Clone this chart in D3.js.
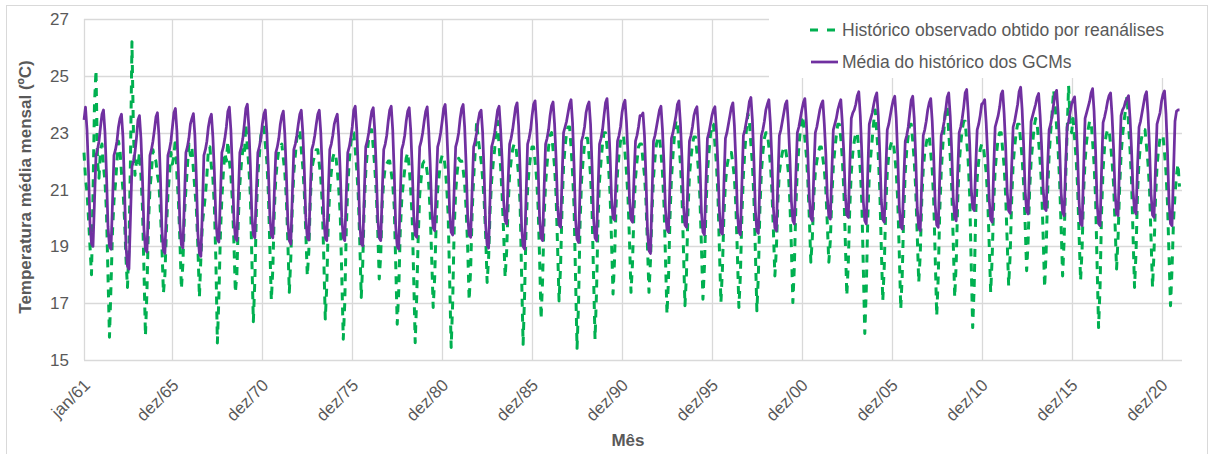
<!DOCTYPE html>
<html>
<head>
<meta charset="utf-8">
<script src="https://cdn.jsdelivr.net/npm/d3@7"></script>
<style>
  body { margin: 0; background: #fff; }
  text { font-family: "Liberation Sans", Arial, sans-serif; fill: #595959; }
</style>
</head>
<body>
<svg id="chart" width="1214" height="454"></svg>
<script>
// categorias (meses) e rótulos
var meses = ["jan","fev","mar","abr","mai","jun","jul","ago","set","out","nov","dez"];
var anos = d3.range(1961, 2022);
var rotulosX = ["jan/61","dez/65","dez/70","dez/75","dez/80","dez/85","dez/90","dez/95","dez/00","dez/05","dez/10","dez/15","dez/20"];
var ticksY = [15, 17, 19, 21, 23, 25, 27];

// Média do histórico dos GCMs, uma linha por ano (jan..dez)
var gcm = [
[23.45,23.9,23.1,21.65,19.8,19.1,19.0,20.6,22.2,22.4,22.7,23.2],
[23.65,23.8,23.0,21.55,19.7,19.0,18.9,20.5,22.2,22.4,22.7,23.2],
[23.5,23.65,22.85,21.1,19.0,18.3,18.2,20.0,21.8,22.0,22.3,22.8],
[23.45,23.6,22.8,21.4,19.6,18.9,18.8,20.4,22.2,22.4,22.7,23.1],
[23.55,23.7,22.9,21.4,19.55,18.85,18.75,20.4,22.2,22.4,22.7,23.2],
[23.7,23.85,23.05,21.6,19.75,19.05,18.95,20.6,22.3,22.5,22.8,23.3],
[23.5,23.67,22.9,21.35,19.45,18.75,18.65,20.3,22.2,22.4,22.7,23.2],
[23.5,23.65,22.85,21.6,19.95,19.25,19.15,20.7,22.3,22.5,22.8,23.2],
[23.75,23.9,23.1,21.75,20.0,19.3,19.2,20.8,22.3,22.5,22.8,23.3],
[23.85,24.0,23.2,21.85,20.1,19.4,19.3,20.9,22.3,22.5,22.8,23.3],
[23.65,23.8,23.0,21.75,20.1,19.4,19.3,20.9,22.3,22.5,22.8,23.3],
[23.6,23.76,22.95,21.6,19.9,19.2,19.08,20.8,22.4,22.6,22.9,23.3],
[23.65,23.79,23.0,21.7,20.0,19.3,19.22,20.9,22.4,22.6,22.9,23.3],
[23.65,23.79,23.0,21.7,20.0,19.3,19.2,20.9,22.4,22.6,22.9,23.3],
[23.5,23.65,22.85,21.6,20.0,19.3,19.2,20.8,22.3,22.5,22.8,23.2],
[23.8,23.93,23.1,21.7,19.8,19.1,19.02,20.8,22.5,22.7,23.0,23.4],
[23.75,23.88,23.1,21.75,20.0,19.3,19.2,20.9,22.4,22.6,22.9,23.4],
[23.8,23.93,23.1,21.6,19.7,19.0,18.9,20.7,22.4,22.6,22.9,23.4],
[23.75,23.88,23.1,21.8,20.1,19.4,19.32,21.0,22.5,22.7,23.0,23.4],
[23.75,23.91,23.1,21.9,20.35,19.65,19.55,21.1,22.5,22.7,23.0,23.4],
[23.85,23.99,23.2,21.9,20.2,19.5,19.4,21.0,22.5,22.7,23.0,23.5],
[23.85,23.99,23.2,21.85,20.1,19.4,19.32,21.0,22.5,22.7,23.0,23.4],
[23.7,23.79,23.0,21.55,19.75,19.05,18.94,20.8,22.5,22.7,23.0,23.4],
[23.8,23.93,23.1,22.05,20.6,19.9,19.79,21.3,22.6,22.8,23.1,23.5],
[23.9,24.05,23.25,21.7,19.7,19.0,18.9,20.8,22.6,22.8,23.1,23.6],
[24.0,24.12,23.3,21.85,20.0,19.3,19.2,21.0,22.6,22.8,23.1,23.6],
[23.95,24.08,23.3,22.1,20.45,19.75,19.67,21.4,23.0,23.2,23.4,23.7],
[24.0,24.16,23.35,21.85,19.95,19.25,19.14,21.0,22.7,22.9,23.2,23.7],
[23.95,24.08,23.3,21.85,20.0,19.3,19.2,21.0,22.6,22.8,23.1,23.6],
[24.05,24.2,23.4,22.25,20.7,20.0,19.93,21.4,22.7,22.9,23.2,23.7],
[24.0,24.14,23.35,22.2,20.65,19.95,19.85,21.4,22.7,22.9,23.2,23.6],
[23.6,23.69,22.9,21.4,19.55,18.85,18.75,20.7,22.7,22.9,23.2,23.5],
[23.8,23.93,23.1,21.9,20.3,19.6,19.5,21.2,22.8,23.0,23.3,23.6],
[24.0,24.12,23.3,22.1,20.45,19.75,19.67,21.3,22.7,22.9,23.2,23.6],
[23.8,23.91,23.1,21.85,20.2,19.5,19.41,21.2,22.8,23.0,23.3,23.6],
[23.8,23.91,23.1,21.85,20.25,19.5,19.43,21.2,22.8,23.0,23.3,23.6],
[23.9,24.05,23.25,21.95,20.2,19.5,19.41,21.2,22.9,23.1,23.4,23.7],
[24.1,24.24,23.45,22.05,20.25,19.55,19.46,21.3,22.9,23.1,23.4,23.8],
[24.0,24.16,23.35,22.05,20.35,19.65,19.55,21.3,22.9,23.1,23.4,23.7],
[24.0,24.12,23.3,22.15,20.6,19.9,19.79,21.5,23.0,23.2,23.5,23.8],
[24.05,24.2,23.4,22.25,20.7,20.0,19.9,21.6,23.0,23.2,23.5,23.8],
[24.0,24.12,23.3,22.25,20.75,20.05,19.96,21.6,23.1,23.3,23.5,23.8],
[24.0,24.16,23.35,22.3,20.8,20.1,20.02,21.8,23.5,23.7,23.8,24.0],
[24.3,24.44,23.6,22.3,20.6,19.9,19.79,21.6,23.3,23.5,23.7,24.0],
[24.25,24.4,23.6,22.3,20.65,19.95,19.85,21.6,23.1,23.3,23.6,23.9],
[24.15,24.28,23.5,22.15,20.4,19.7,19.61,21.3,22.7,22.9,23.2,23.7],
[24.15,24.28,23.5,22.1,20.35,19.65,19.55,21.3,22.9,23.1,23.4,23.8],
[24.05,24.2,23.4,22.15,20.45,19.75,19.67,21.4,22.9,23.1,23.4,23.8],
[24.25,24.4,23.6,22.35,20.7,20.0,19.9,21.6,23.0,23.2,23.5,23.9],
[24.4,24.52,23.7,22.6,21.05,20.35,20.26,21.8,23.1,23.3,23.6,24.0],
[24.05,24.16,23.35,22.2,20.65,19.95,19.85,21.7,23.2,23.4,23.6,23.9],
[24.35,24.47,23.65,22.5,20.95,20.25,20.16,21.8,23.2,23.4,23.7,24.0],
[24.45,24.6,23.8,22.55,20.95,20.25,20.14,21.9,23.4,23.6,23.8,24.0],
[24.25,24.38,23.6,22.5,21.05,20.35,20.26,21.8,23.1,23.3,23.6,24.0],
[24.35,24.49,23.7,22.5,20.9,20.2,20.08,21.8,23.2,23.4,23.7,24.0],
[24.15,24.26,23.45,22.2,20.55,19.8,19.73,21.7,23.5,23.7,23.9,24.1],
[24.4,24.55,23.75,22.35,20.55,19.8,19.73,21.7,23.35,23.55,23.8,24.1],
[24.3,24.4,23.6,22.45,20.9,20.15,20.08,21.9,23.6,23.8,23.9,24.1],
[24.2,24.3,23.5,22.4,20.95,20.25,20.14,21.8,23.2,23.4,23.7,24.0],
[24.3,24.44,23.65,22.45,20.85,20.1,20.02,21.8,23.3,23.5,23.7,24.1],
[24.35,24.47,23.65,22.3,20.55,19.8,19.73,21.6,23.4,23.75,23.8,23.8]
];

// Histórico observado obtido por reanálises, uma linha por ano (jan..dez)
var observado = [
[22.3,21.4,20.9,20.0,19.0,18.0,20.8,24.0,25.2,22.0,21.4,22.4],
[22.6,21.8,21.3,20.2,18.0,15.8,17.6,19.5,20.6,21.2,22.0,22.7],
[22.4,21.6,21.0,20.0,18.6,17.55,19.0,22.0,26.2,23.0,21.5,22.0],
[21.8,22.3,21.5,20.4,18.2,15.85,17.4,19.8,21.0,21.6,22.4,22.1],
[22.0,21.5,21.2,20.2,19.0,17.35,18.0,19.6,20.8,21.5,22.3,21.9],
[22.2,22.8,21.5,20.6,19.2,17.5,18.4,20.1,21.0,21.8,22.6,22.2],
[22.5,21.7,21.0,20.3,19.0,17.2,18.6,19.8,20.3,20.8,21.5,22.4],
[22.5,21.8,21.4,20.4,18.5,15.6,17.2,19.4,20.7,21.6,22.3,22.0],
[22.7,22.0,21.5,20.6,19.2,17.37,18.0,20.0,21.2,21.9,22.4,22.2],
[23.3,22.5,21.8,20.8,18.6,16.35,17.8,20.2,21.5,22.2,22.9,23.1],
[23.2,22.6,22.0,20.9,19.0,17.1,18.2,20.3,21.4,22.0,22.4,22.5],
[22.6,22.1,21.6,20.7,19.2,17.38,18.6,20.4,21.6,22.2,22.8,23.0],
[23.1,22.4,21.8,20.9,19.5,17.96,18.8,20.6,21.7,22.0,22.2,22.4],
[22.4,21.9,21.4,20.5,18.6,16.44,17.6,19.8,21.0,21.6,22.1,22.3],
[22.2,21.7,21.0,20.1,18.0,15.73,17.0,19.6,21.1,22.0,22.6,23.0],
[23.0,22.4,21.7,20.8,19.2,17.2,18.4,20.4,21.6,22.3,22.8,23.1],
[23.1,22.5,21.8,20.9,19.6,17.85,18.7,20.5,21.3,21.8,21.9,22.0],
[22.0,21.6,21.2,20.4,18.4,16.26,17.4,19.5,20.6,21.2,21.7,22.1],
[22.3,21.8,21.0,20.0,17.9,15.61,17.2,19.3,20.8,21.4,21.9,22.0],
[22.0,21.6,21.2,20.2,18.6,16.85,17.9,19.8,21.0,21.5,22.0,22.2],
[22.2,21.8,21.1,20.1,17.8,15.44,17.0,19.6,20.9,21.6,22.1,22.0],
[22.0,21.7,21.2,20.3,19.0,17.1,18.2,20.2,21.4,22.3,23.4,22.8],
[22.4,22.0,21.4,20.6,19.4,17.73,18.6,20.3,21.3,21.9,22.4,23.2],
[23.4,22.5,21.8,20.8,19.5,17.9,18.8,20.4,21.5,22.0,22.4,22.6],
[22.6,22.1,21.5,20.5,18.0,15.55,17.3,19.7,21.0,21.7,22.2,22.5],
[22.5,22.0,21.4,20.4,18.6,16.44,17.8,20.0,21.2,21.9,22.5,22.9],
[23.0,22.4,21.8,20.8,19.0,17.08,18.3,20.4,21.8,22.5,23.0,23.2],
[23.2,22.5,21.6,20.4,17.9,15.41,17.0,19.8,21.3,22.0,22.6,22.8],
[22.8,22.2,21.5,20.3,18.0,15.73,17.4,19.9,21.3,22.0,22.6,23.0],
[23.0,22.5,21.8,20.9,19.2,17.32,18.5,20.4,21.6,22.2,22.7,22.9],
[22.9,22.3,21.6,20.7,19.2,17.38,18.4,20.3,21.4,22.0,22.5,22.6],
[22.6,22.0,21.5,20.6,19.0,17.38,18.5,20.2,21.4,22.1,22.6,22.85],
[22.85,22.3,21.6,20.5,18.6,16.61,17.8,20.0,21.4,22.2,22.9,23.4],
[23.44,22.6,21.9,20.8,18.9,16.91,18.0,20.2,21.5,22.1,22.6,22.85],
[22.85,22.3,21.7,20.7,19.0,17.14,18.3,20.3,21.6,22.3,22.9,23.3],
[23.3,22.6,21.9,20.8,18.9,17.02,18.2,20.1,21.2,21.8,22.1,22.3],
[22.3,21.9,21.4,20.4,18.7,16.85,18.0,20.1,21.5,22.4,23.1,23.67],
[23.4,22.6,21.9,20.7,18.8,16.73,18.0,20.3,21.6,22.3,22.8,23.0],
[23.0,22.5,21.9,21.0,19.6,17.96,18.9,20.6,21.6,22.0,22.3,22.5],
[22.5,22.1,21.6,20.6,19.0,17.02,18.3,20.4,21.7,22.5,23.1,23.6],
[23.4,22.8,22.2,21.3,20.0,18.44,19.3,20.8,21.6,22.0,22.3,22.5],
[22.5,22.1,21.7,21.0,19.8,18.44,19.2,20.7,21.8,22.4,22.9,23.3],
[23.3,22.8,22.1,21.0,19.2,17.26,18.4,20.4,21.6,22.3,22.7,23.0],
[23.0,22.4,21.7,20.6,18.3,15.93,17.5,20.0,21.5,22.2,22.8,23.4],
[23.8,23.0,22.2,21.0,19.0,17.08,18.3,20.4,21.6,22.2,22.5,22.7],
[22.7,22.2,21.6,20.6,18.8,16.79,18.0,20.2,21.6,22.4,22.9,23.3],
[23.3,22.7,22.0,21.0,19.4,17.73,18.7,20.6,21.7,22.3,22.6,22.9],
[22.9,22.3,21.7,20.6,18.6,16.55,17.9,20.2,21.6,22.5,23.2,23.9],
[23.9,23.0,22.2,21.1,19.2,17.2,18.4,20.6,21.9,22.6,23.1,23.4],
[23.4,22.7,22.0,20.8,18.4,16.14,17.6,20.1,21.4,22.0,22.4,22.6],
[22.6,22.1,21.6,20.7,19.1,17.38,18.6,20.5,21.7,22.3,22.8,23.0],
[23.0,22.4,21.8,20.8,19.2,17.61,18.7,20.6,21.9,22.5,23.0,23.3],
[23.3,22.7,22.1,21.2,19.8,18.14,19.2,21.0,22.0,22.6,23.2,23.5],
[23.3,22.7,22.0,21.1,19.4,17.55,18.8,20.9,22.2,23.0,23.7,24.5],
[24.0,23.2,22.4,21.3,19.7,17.96,19.2,21.3,23.0,24.65,23.4,23.0],
[23.5,22.8,22.1,21.1,19.4,17.79,18.9,20.9,22.0,22.7,23.1,23.4],
[23.4,22.7,21.9,20.7,18.4,16.14,17.6,20.2,21.7,22.5,22.9,23.1],
[23.1,22.6,22.0,21.2,19.8,18.2,19.3,21.0,22.2,22.9,23.4,23.8],
[24.3,23.3,22.4,21.3,19.4,17.55,18.8,20.9,22.0,22.6,22.9,23.1],
[23.1,22.5,21.9,21.0,19.3,17.55,18.8,20.7,21.8,22.4,22.8,22.9],
[22.9,22.3,21.6,20.5,18.7,16.91,18.2,19.9,20.8,21.5,21.9,21.1]
];

var categorias = [];
anos.forEach(function(a){
    meses.forEach(function(m){ categorias.push(m + "/" + String(a).slice(2)); });
});
var serieGcm = gcm.flat();
var serieObs = observado.flat();

var svg = d3.select("#chart");

// moldura do gráfico
svg.append("rect")
    .attr("x",6.5).attr("y",5.5)
    .attr("width",1201).attr("height",460)
    .attr("fill","#fff").attr("stroke","#d9d9d9");

var pxEsq = 84, pxDir = 1182, pxTopo = 19, pxBase = 360;

var x = d3.scaleLinear().domain([0, categorias.length-1]).range([pxEsq, 1179.5]);
var y = d3.scaleLinear().domain([15, 27]).range([pxBase, pxTopo]);

var grid = svg.append("g");
grid.selectAll("line.h")
    .data(ticksY)
    .enter().append("line")
    .attr("x1",pxEsq).attr("x2",pxDir)
    .attr("y1",function(d){ return Math.round(y(d))+0.5; })
    .attr("y2",function(d){ return Math.round(y(d))+0.5; })
    .attr("stroke","#d9d9d9").attr("stroke-width",1.3);

var idxRotulos = rotulosX.map(function(r){ return categorias.indexOf(r); });
grid.selectAll("line.v")
    .data(idxRotulos)
    .enter().append("line")
    .attr("x1",function(d){ return Math.round(x(d))+0.5; })
    .attr("x2",function(d){ return Math.round(x(d))+0.5; })
    .attr("y1",pxTopo).attr("y2",pxBase)
    .attr("stroke","#d9d9d9").attr("stroke-width",1.3);

// eixo Y
svg.append("g").selectAll("text")
    .data(ticksY)
    .enter().append("text")
    .attr("x",69)
    .attr("y",function(d){ return y(d); })
    .attr("dy","0.36em")
    .attr("text-anchor","end")
    .style("font-size","17px")
    .text(function(d){ return d; });

// eixo X
svg.append("g").selectAll("text")
    .data(idxRotulos)
    .enter().append("text")
    .attr("text-anchor","end")
    .attr("transform",function(d){ return "translate(" + (x(d)+3) + ",382) rotate(-45)"; })
    .attr("dy","0.35em")
    .style("font-size","17px")
    .text(function(d){ return categorias[d]; });

svg.append("text")
    .attr("x",628).attr("y",446)
    .attr("text-anchor","middle")
    .style("font-size","17px").style("font-weight","bold")
    .text("Mês");

svg.append("text")
    .attr("transform","translate(31,187) rotate(-90)")
    .attr("text-anchor","middle")
    .style("font-size","17px").style("font-weight","bold")
    .text("Temperatura média mensal (ºC)");

// séries
var linha = d3.line()
    .x(function(d,i){ return x(i); })
    .y(function(d){ return y(d); });

svg.append("path")
    .datum(serieObs)
    .attr("d",linha)
    .attr("fill","none")
    .attr("stroke","#00b050")
    .attr("stroke-width",3)
    .attr("stroke-dasharray","8,7")
    .attr("stroke-linejoin","round");

svg.append("path")
    .datum(serieGcm)
    .attr("d",linha)
    .attr("fill","none")
    .attr("stroke","#7030a0")
    .attr("stroke-width",2.75)
    .attr("stroke-linejoin","round");

// legenda
var leg = svg.append("g");
leg.append("rect")
    .attr("x",769).attr("y",10).attr("width",414).attr("height",68)
    .attr("fill","#fff");
leg.append("line")
    .attr("x1",810).attr("x2",836).attr("y1",30).attr("y2",30)
    .attr("stroke","#00b050").attr("stroke-width",3)
    .attr("stroke-dasharray","8,9");
leg.append("text")
    .attr("x",842).attr("y",36)
    .style("font-size","17.5px")
    .text("Histórico observado obtido por reanálises");
leg.append("line")
    .attr("x1",811).attr("x2",838).attr("y1",62).attr("y2",62)
    .attr("stroke","#7030a0").attr("stroke-width",2.75);
leg.append("text")
    .attr("x",842).attr("y",68)
    .style("font-size","17.5px")
    .text("Média do histórico dos GCMs");
</script>
</body>
</html>
